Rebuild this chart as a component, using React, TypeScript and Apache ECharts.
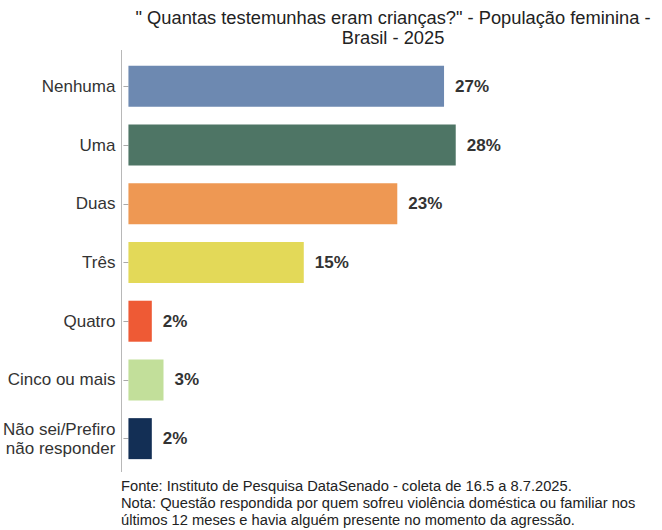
import { useEffect, useRef } from 'react'
import * as echarts from 'echarts'

const categories = ['Nenhuma', 'Uma', 'Duas', 'Três', 'Quatro', 'Cinco ou mais', 'Não sei/Prefiro\nnão responder']
const values = [27, 28, 23, 15, 2, 3, 2]
const barColors = ['#6d89b1', '#4e7565', '#ee9853', '#e3d958', '#ee5a35', '#c2df9a', '#132f55']

const titleText = '" Quantas testemunhas eram crianças?" - População feminina -\nBrasil - 2025'
const footerText =
  'Fonte: Instituto de Pesquisa DataSenado - coleta de 16.5 a 8.7.2025.\n' +
  'Nota: Questão respondida por quem sofreu violência doméstica ou familiar nos\n' +
  'últimos 12 meses e havia alguém presente no momento da agressão.'

const FONT = "'Liberation Sans', Arial, sans-serif"

export default function App() {
  const chartRef = useRef<HTMLDivElement>(null)

  useEffect(() => {
    if (!chartRef.current) return
    const chart = echarts.init(chartRef.current, null, { renderer: 'svg' })

    const option: echarts.EChartsOption = {
      animation: false,
      backgroundColor: '#ffffff',
      textStyle: { fontFamily: FONT },
      title: [
        {
          text: titleText,
          left: 388,
          top: 2,
          textAlign: 'center',
          textStyle: { fontSize: 18.3, fontWeight: 'normal', color: '#222', lineHeight: 20, fontFamily: FONT },
        },
        {
          text: footerText,
          left: 116,
          top: 472,
          textStyle: { fontSize: 14.7, fontWeight: 'normal', color: '#222', lineHeight: 17, fontFamily: FONT },
        },
      ],
      grid: { left: 128, right: 66, top: 57, bottom: 62, containLabel: false },
      xAxis: {
        type: 'value',
        min: 0,
        max: 40,
        show: false,
      },
      yAxis: {
        type: 'category',
        data: categories,
        inverse: true,
        offset: 7,
        axisLine: { show: false },
        axisTick: { show: true, length: 5, alignWithLabel: true, lineStyle: { color: '#aaa' } },
        axisLabel: { margin: 6, fontSize: 17, color: '#333', lineHeight: 19, fontFamily: FONT },
        splitLine: { show: false },
      },
      graphic: [
        {
          type: 'line',
          shape: { x1: 121.5, y1: 50, x2: 121.5, y2: 472 },
          style: { stroke: '#b8b8b8', lineWidth: 1 },
        },
      ],
      series: [
        {
          type: 'bar',
          data: values.map((v, i) => ({ value: v, itemStyle: { color: barColors[i] } })),
          barWidth: 41,
          label: {
            show: true,
            position: 'right',
            distance: 11,
            formatter: '{c}%',
            fontSize: 17,
            fontWeight: 'bold',
            color: '#333',
            fontFamily: FONT,
          },
        },
      ],
    }

    chart.setOption(option)
    return () => {
      chart.dispose()
    }
  }, [])

  return <div ref={chartRef} style={{ position: 'absolute', left: 0, top: 0, width: 662, height: 530 }} />
}
